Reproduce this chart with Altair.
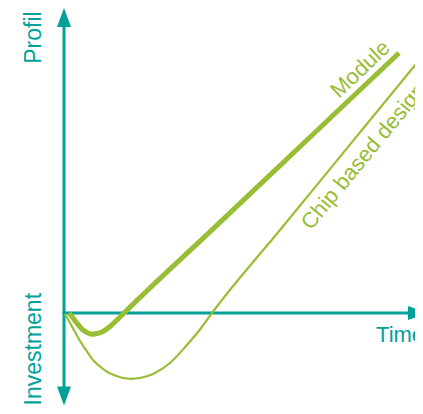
import altair as alt
import pandas as pd

TEAL = "#00A19A"
GREEN = "#97BE35"
FONT = "Liberation Sans"

# Plot frame (data units): time on x, profit/investment on y
X_MIN, X_MAX = -1.556, 9.75
Y_MIN, Y_MAX = -3.1, 10.167

# Module curve (thick)
module_t = [0.14, 0.25, 0.361, 0.528, 0.667, 0.778, 0.917, 1.083, 1.278, 1.472, 1.667, 4.0, 7.0, 9.306]
module_v = [0.0, -0.167, -0.343, -0.567, -0.667, -0.71, -0.683, -0.617, -0.45, -0.233, 0.0, 2.647, 6.052, 8.667]

# Chip based design curve (thin)
chip_t = [0.028, 0.167, 0.306, 0.444, 0.611, 0.806, 1.0, 1.194, 1.417, 1.639, 1.861, 2.111,
          2.472, 2.944, 3.389, 3.778, 4.111, 6.0, 8.0, 9.778]
chip_v = [-0.033, -0.333, -0.633, -0.933, -1.233, -1.567, -1.783, -1.957, -2.083, -2.167, -2.193, -2.167,
          -2.033, -1.667, -1.1, -0.55, 0.0, 2.767, 5.696, 8.3]

# Axis arrows
arrow_t = [0.0, 0.0, 9.819]
arrow_v = [9.85, -2.767, 0.0]
arrow_angle = [0, 180, 90]

# Axis titles (rotated, centred)
side_text = ["Profil", "Investment"]
side_t = [-0.822, -0.822]
side_v = [9.183, -1.207]

# Other labels (left aligned on baseline)
lab_text = ["Time", "Module", "Chip based design"]
lab_t = [8.667, 7.639, 6.861]
lab_v = [-0.967, 7.133, 2.733]
lab_angle = [0, 316.5, 309.5]
lab_color = [TEAL, GREEN, GREEN]

xs = alt.Scale(domain=[X_MIN, X_MAX], nice=False, zero=False)
ys = alt.Scale(domain=[Y_MIN, Y_MAX], nice=False, zero=False)

def X(f="t"):
    return alt.X(f"{f}:Q", scale=xs, axis=None)

def Y(f="v"):
    return alt.Y(f"{f}:Q", scale=ys, axis=None)

module_df = pd.DataFrame({"t": module_t, "v": module_v, "i": range(len(module_t))})
chip_df = pd.DataFrame({"t": chip_t, "v": chip_v, "i": range(len(chip_t))})

vert_df = pd.DataFrame({"t": [0.0], "v": [9.7], "v2": [-2.6]})
horiz_df = pd.DataFrame({"t": [-0.04], "t2": [9.667], "v": [0.0]})

arrow_df = pd.DataFrame({"t": arrow_t, "v": arrow_v, "a": arrow_angle})
side_df = pd.DataFrame({"text": side_text, "t": side_t, "v": side_v})
lab_df = pd.DataFrame({"text": lab_text, "t": lab_t, "v": lab_v, "a": lab_angle, "c": lab_color})

vrule = alt.Chart(vert_df).mark_rule(color=TEAL, strokeWidth=3).encode(
    x=X(), y=Y(), y2="v2:Q")
hrule = alt.Chart(horiz_df).mark_rule(color=TEAL, strokeWidth=3).encode(
    x=X(), x2="t2:Q", y=Y())

arrows = alt.Chart(arrow_df).mark_point(
    shape="M0,-1L0.7368,1L-0.7368,1Z", filled=True, fill=TEAL, strokeWidth=0,
    size=361, opacity=1
).encode(x=X(), y=Y(), angle=alt.Angle("a:Q", scale=None))

chip = alt.Chart(chip_df).mark_line(
    color=GREEN, strokeWidth=2.2, interpolate="monotone", strokeCap="butt"
).encode(x=X(), y=Y(), order="i:Q")

module = alt.Chart(module_df).mark_line(
    color=GREEN, strokeWidth=5, interpolate="monotone", strokeCap="butt"
).encode(x=X(), y=Y(), order="i:Q")

side = alt.Chart(side_df).mark_text(
    angle=270, align="center", baseline="middle", font=FONT, fontSize=23, color=TEAL
).encode(x=X(), y=Y(), text="text:N")

labels = alt.Chart(lab_df).mark_text(
    align="left", baseline="alphabetic", font=FONT, fontSize=22
).encode(x=X(), y=Y(), text="text:N",
         angle=alt.Angle("a:Q", scale=None),
         color=alt.Color("c:N", scale=None))

chart = alt.layer(vrule, hrule, arrows, chip, module, side, labels).properties(
    width=407, height=398,
    autosize=alt.AutoSizeParams(type="none"),
    padding=0,
    background="white",
).configure_view(stroke=None)

chart.save("out.html", embed_options={"renderer": "svg", "actions": False})
